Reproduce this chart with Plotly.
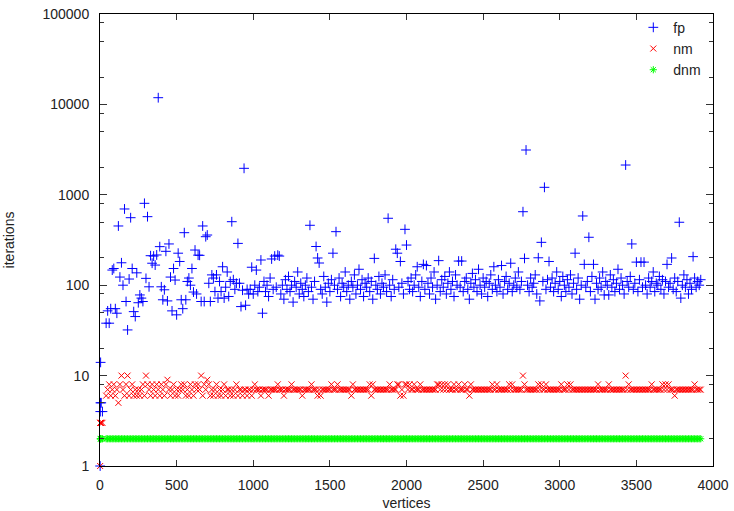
import plotly.graph_objects as go

# ---------------- data ----------------
small_vertices = [1, 2, 3, 4, 8, 16]
main_vertices = list(range(40, 3930, 10))
vertices = small_vertices + main_vertices

fp = [
    1, 4, 5, 14, 5, 4,
    38, 52, 38, 55, 147, 153, 55, 49, 452, 123,
    177, 100, 697, 66, 32, 117, 558, 153, 51, 45,
    137, 64, 78, 72, 66, 805, 119, 573, 96, 212,
    175, 210, 167, 216, 11860, 267, 96, 69, 89, 237,
    67, 286, 123, 52, 153, 114, 47, 226, 183, 69,
    55, 381, 69, 110, 120, 100, 153, 84, 245, 80,
    215, 214, 66, 452, 66, 344, 359, 105, 66, 130,
    120, 85, 130, 72, 110, 85, 160, 72, 95, 140,
    75, 110, 504, 115, 90, 105, 290, 105, 58, 88,
    1963, 60, 90, 80, 90, 158, 80, 100, 147, 85,
    95, 190, 49, 110, 85, 100, 75, 120, 195, 90,
    210, 95, 215, 210, 80, 100, 70, 115, 90, 125,
    85, 100, 65, 110, 95, 140, 80, 105, 90, 75,
    100, 120, 85, 460, 95, 70, 110, 268, 200, 176,
    90, 80, 125, 95, 65, 105, 85, 115, 226, 100,
    391, 90, 120, 75, 105, 95, 140, 85, 100, 70,
    110, 95, 130, 80, 100, 150, 90, 115, 75, 105,
    95, 120, 85, 110, 70, 198, 100, 90, 125, 80,
    105, 95, 130, 85, 550, 100, 75, 115, 90, 250,
    226, 95, 183, 105, 80, 415, 278, 110, 90, 120,
    85, 100, 130, 160, 95, 75, 110, 170, 90, 165,
    105, 80, 120, 95, 140, 70, 100, 187, 85, 115,
    95, 125, 80, 105, 140, 90, 110, 75, 130, 100,
    185, 95, 185, 85, 110, 120, 90, 70, 105, 135,
    95, 115, 85, 150, 100, 80, 120, 95, 110, 75,
    105, 130, 90, 160, 100, 85, 115, 95, 165, 80,
    110, 125, 90, 105, 175, 85, 100, 120, 95, 140,
    90, 110, 650, 198, 3130, 100, 85, 120, 95, 105,
    130, 80, 201, 67, 298, 110, 1210, 90, 115, 183,
    95, 120, 85, 105, 140, 90, 110, 75, 125, 100,
    85, 115, 95, 130, 80, 105, 226, 90, 120, 70,
    100, 583, 170, 95, 110, 339, 85, 125, 170, 70,
    105, 90, 120, 95, 140, 78, 110, 100, 78, 130,
    95, 115, 85, 105, 150, 90, 120, 100, 80, 2135,
    110, 95, 125, 286, 90, 105, 180, 85, 115, 180,
    95, 180, 100, 80, 120, 95, 110, 140, 85, 105,
    100, 125, 90, 115, 80, 110, 170, 95, 105, 200,
    90, 120, 85, 110, 497, 72, 100, 130, 95, 115,
    80, 105, 90, 207, 120, 95, 110, 100, 115,
]

nm = [
    1, 3, 3, 3, 3, 3,
    6, 7, 8, 6, 7, 8, 6, 7, 5, 8,
    10, 7, 6, 8, 10, 6, 7, 8, 6, 7,
    6, 7, 6, 7, 8, 6, 10, 8, 7, 6,
    8, 7, 6, 8, 7, 6, 8, 7, 6, 8,
    9, 7, 6, 7, 8, 6, 7, 6, 7, 8,
    7, 8, 6, 7, 6, 8, 7, 6, 8, 7,
    8, 7, 10, 6, 8, 7, 9, 8, 6, 7,
    6, 7, 8, 6, 7, 6, 7, 8, 6, 7,
    7, 6, 7, 6, 7, 8, 6, 7, 7, 6,
    7, 7, 6, 7, 7, 6, 7, 8, 7, 7,
    7, 6, 7, 7, 7, 7, 6, 7, 7, 7,
    7, 7, 8, 7, 7, 7, 6, 7, 7, 7,
    7, 8, 7, 7, 7, 7, 7, 7, 6, 7,
    7, 7, 7, 7, 8, 7, 7, 7, 6, 7,
    6, 7, 7, 7, 7, 7, 7, 8, 7, 7,
    7, 8, 7, 7, 7, 7, 7, 7, 7, 7,
    6, 8, 7, 7, 7, 7, 7, 7, 7, 7,
    7, 7, 8, 6, 8, 7, 7, 7, 7, 7,
    7, 7, 7, 7, 7, 8, 7, 7, 7, 7,
    8, 8, 6, 7, 6, 8, 8, 7, 8, 7,
    7, 8, 7, 7, 7, 8, 7, 7, 7, 7,
    7, 7, 7, 7, 7, 7, 8, 8, 7, 8,
    7, 8, 7, 8, 7, 7, 7, 8, 7, 7,
    8, 7, 7, 7, 8, 7, 7, 6, 8, 7,
    7, 7, 7, 7, 7, 7, 7, 7, 7, 7,
    7, 7, 8, 7, 7, 8, 7, 7, 7, 7,
    7, 7, 7, 8, 7, 8, 7, 7, 7, 7,
    7, 7, 10, 8, 7, 7, 7, 7, 7, 7,
    7, 7, 8, 7, 8, 7, 7, 8, 7, 7,
    7, 7, 7, 7, 7, 7, 7, 8, 7, 7,
    7, 8, 7, 8, 7, 7, 7, 7, 7, 7,
    7, 7, 7, 7, 7, 7, 7, 7, 7, 7,
    7, 8, 7, 7, 7, 7, 7, 7, 8, 7,
    7, 7, 7, 7, 7, 7, 7, 7, 7, 10,
    7, 8, 7, 7, 7, 7, 7, 7, 7, 7,
    7, 7, 7, 7, 7, 7, 8, 7, 7, 7,
    7, 7, 7, 8, 7, 8, 7, 8, 7, 7,
    7, 6, 7, 7, 7, 7, 7, 7, 7, 7,
    7, 7, 7, 7, 8, 7, 7, 7, 7,
]

dnm = [
    None, 2, 2, 2, 2, 2,
    2, 2, 2, 2, 2, 2, 2, 2, 2, 2,
    2, 2, 2, 2, 2, 2, 2, 2, 2, 2,
    2, 2, 2, 2, 2, 2, 2, 2, 2, 2,
    2, 2, 2, 2, 2, 2, 2, 2, 2, 2,
    2, 2, 2, 2, 2, 2, 2, 2, 2, 2,
    2, 2, 2, 2, 2, 2, 2, 2, 2, 2,
    2, 2, 2, 2, 2, 2, 2, 2, 2, 2,
    2, 2, 2, 2, 2, 2, 2, 2, 2, 2,
    2, 2, 2, 2, 2, 2, 2, 2, 2, 2,
    2, 2, 2, 2, 2, 2, 2, 2, 2, 2,
    2, 2, 2, 2, 2, 2, 2, 2, 2, 2,
    2, 2, 2, 2, 2, 2, 2, 2, 2, 2,
    2, 2, 2, 2, 2, 2, 2, 2, 2, 2,
    2, 2, 2, 2, 2, 2, 2, 2, 2, 2,
    2, 2, 2, 2, 2, 2, 2, 2, 2, 2,
    2, 2, 2, 2, 2, 2, 2, 2, 2, 2,
    2, 2, 2, 2, 2, 2, 2, 2, 2, 2,
    2, 2, 2, 2, 2, 2, 2, 2, 2, 2,
    2, 2, 2, 2, 2, 2, 2, 2, 2, 2,
    2, 2, 2, 2, 2, 2, 2, 2, 2, 2,
    2, 2, 2, 2, 2, 2, 2, 2, 2, 2,
    2, 2, 2, 2, 2, 2, 2, 2, 2, 2,
    2, 2, 2, 2, 2, 2, 2, 2, 2, 2,
    2, 2, 2, 2, 2, 2, 2, 2, 2, 2,
    2, 2, 2, 2, 2, 2, 2, 2, 2, 2,
    2, 2, 2, 2, 2, 2, 2, 2, 2, 2,
    2, 2, 2, 2, 2, 2, 2, 2, 2, 2,
    2, 2, 2, 2, 2, 2, 2, 2, 2, 2,
    2, 2, 2, 2, 2, 2, 2, 2, 2, 2,
    2, 2, 2, 2, 2, 2, 2, 2, 2, 2,
    2, 2, 2, 2, 2, 2, 2, 2, 2, 2,
    2, 2, 2, 2, 2, 2, 2, 2, 2, 2,
    2, 2, 2, 2, 2, 2, 2, 2, 2, 2,
    2, 2, 2, 2, 2, 2, 2, 2, 2, 2,
    2, 2, 2, 2, 2, 2, 2, 2, 2, 2,
    2, 2, 2, 2, 2, 2, 2, 2, 2, 2,
    2, 2, 2, 2, 2, 2, 2, 2, 2, 2,
    2, 2, 2, 2, 2, 2, 2, 2, 2, 2,
    2, 2, 2, 2, 2, 2, 2, 2, 2,
]

x_tick_vals = [0, 500, 1000, 1500, 2000, 2500, 3000, 3500, 4000]
y_tick_vals = [1, 10, 100, 1000, 10000, 100000]
y_tick_text = ["1", "10", "100", "1000", "10000", "100000"]
y_minor_factors = [2, 5, 8]

# ---------------- figure ----------------
FONT = "Liberation Sans, Arial, Helvetica, sans-serif"

fig = go.Figure()
fig.add_trace(go.Scatter(
    x=vertices, y=fp, name="fp", mode="markers", cliponaxis=False,
    marker=dict(symbol="cross-thin", size=7, line=dict(color="rgb(0,0,255)", width=1)),
))
fig.add_trace(go.Scatter(
    x=vertices, y=nm, name="nm", mode="markers", cliponaxis=False,
    marker=dict(symbol="x-thin", size=6, line=dict(color="rgb(255,0,0)", width=1)),
))
fig.add_trace(go.Scatter(
    x=vertices, y=dnm, name="dnm", mode="markers", cliponaxis=False,
    marker=dict(symbol="asterisk", size=6, line=dict(color="rgb(0,255,0)", width=1)),
))

minor_vals = [f * 10 ** e for e in range(0, 5) for f in y_minor_factors]

fig.update_layout(
    width=734, height=511,
    margin=dict(l=100, r=21, t=14, b=45),
    paper_bgcolor="white", plot_bgcolor="white",
    font=dict(family=FONT, size=14, color="#222222"),
    showlegend=True,
    legend=dict(
        x=0.87, xanchor="left", y=1.005, yanchor="top",
        bgcolor="rgba(0,0,0,0)", font=dict(size=14),
        tracegroupgap=0, itemsizing="trace",
    ),
    xaxis=dict(
        range=[0, 4000], tickmode="array", tickvals=x_tick_vals,
        ticks="inside", ticklen=6, tickcolor="#333333", tickwidth=1,
        showline=True, linecolor="black", linewidth=1, mirror="allticks",
        showgrid=False, zeroline=False, ticklabelstandoff=6, automargin=False,
        ticklabeloverflow="allow",
        title=dict(text="vertices", standoff=8, font=dict(size=14)),
    ),
    yaxis=dict(
        type="log", range=[0, 5], tickmode="array",
        tickvals=y_tick_vals, ticktext=y_tick_text,
        ticks="inside", ticklen=7, tickcolor="#333333", tickwidth=1,
        showline=True, linecolor="black", linewidth=1, mirror="allticks",
        showgrid=False, zeroline=False, ticklabelstandoff=7, automargin=False,
        ticklabeloverflow="allow",
        minor=dict(tickmode="array", tickvals=minor_vals, ticks="inside",
                   ticklen=4, tickcolor="#333333", tickwidth=1, showgrid=False),
        title=dict(text="iterations", standoff=24, font=dict(size=14)),
    ),
)

# remove the default 8px page margin so the 734x511 figure fills the window
fig.write_html(
    "out.html",
    config={"displayModeBar": False},
    post_script="document.body.style.margin='0';",
)
